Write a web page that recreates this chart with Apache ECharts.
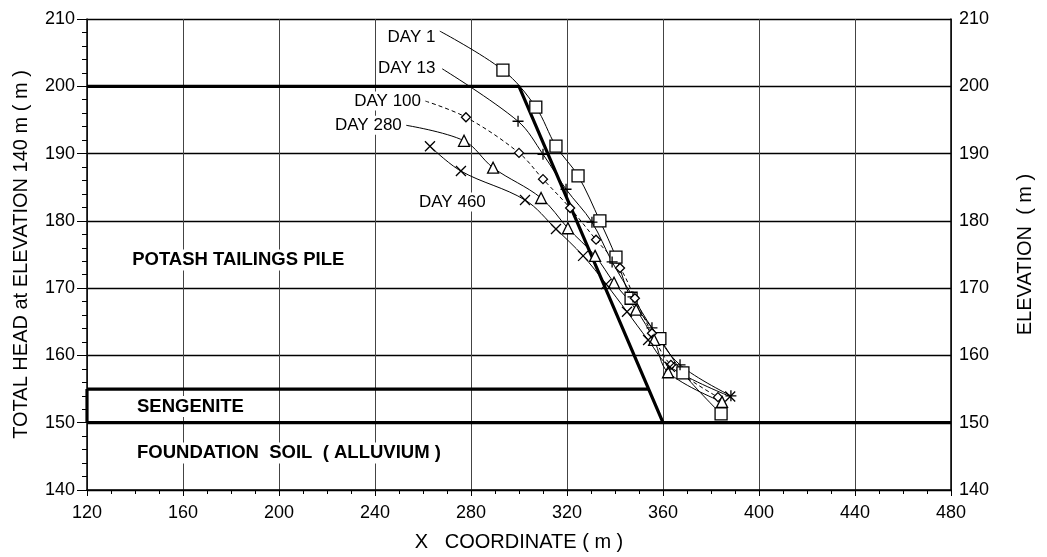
<!DOCTYPE html>
<html>
<head>
<meta charset="utf-8">
<script src="https://cdn.jsdelivr.net/npm/echarts@6/dist/echarts.min.js"></script>
<style>
html,body{margin:0;padding:0;background:#fff;}
#chart{width:1047px;height:557px;}
</style>
</head>
<body>
<div id="chart"></div>
<script>
// Axis ticks
const xTicks = [120, 160, 200, 240, 280, 320, 360, 400, 440, 480];
const yTicks = [140, 150, 160, 170, 180, 190, 200, 210];

// Total head profiles, [x coordinate (m), head (m)]; first point of a labelled curve is its leader start
const day1   = [[267,208.2],[293.3,202.4],[307,196.9],[315.4,191.1],[324.6,186.7],[333.7,180.0],[340.4,174.6],[346.7,168.5],[358.7,162.5],[368.3,157.4],[384.2,151.3]];
const day13  = [[268,202.6],[299.6,194.8],[310,189.9],[319.6,184.7],[330.4,179.8],[338.8,173.9],[347.5,168.7],[355.4,164.1],[367.1,158.6],[388.3,154.0]];
const day100 = [[261,197.8],[277.9,195.4],[300,190.1],[310,186.2],[321.3,181.9],[332.1,177.2],[342.1,173.0],[348.3,168.5],[355.4,163.3],[363.3,158.6],[382.9,153.8]];
const day280 = [[253,194.2],[277.1,191.9],[289.2,187.9],[309.2,183.4],[320.4,178.9],[331.7,174.8],[339.6,170.8],[348.8,166.8],[356.3,162.3],[362.1,157.5],[384.6,153.1]];
const day460 = [[262.9,191.1],[275.8,187.4],[302.5,183.1],[315.4,178.8],[326.7,174.8],[336.3,170.6],[345,166.5],[353.8,162.3],[362.9,158.3],[388.0,153.9]];

// Stratigraphy outlines
const pileFace  = [[120,200],[300,200],[360,150]];
const soilTop   = [[120,150],[480,150]];
const sengTop   = [[120,155],[354,155]];
const sengLeft  = [[120,150],[120,155]];

const chart = echarts.init(document.getElementById('chart'));
const FONT = '"Liberation Sans", Arial, sans-serif';

function profile(name, data, symbol, size, dash, leader) {
  const pts = data.map((d, i) => (leader && i === 0) ? { value: d, symbol: 'none' } : d);
  return {
    name, type: 'line', data: pts, smooth: 0.35, symbol, symbolSize: size,
    showSymbol: true, z: 5,
    lineStyle: { color: '#000', width: 1, type: dash },
    itemStyle: { color: '#fff', borderColor: '#000', borderWidth: 1.3 },
    emphasis: { disabled: true }, animation: false
  };
}
function strata(data) {
  return {
    type: 'line', data, symbol: 'none', z: 4,
    lineStyle: { color: '#000', width: 3.2 }, animation: false,
    emphasis: { disabled: true }
  };
}

const PLUS = 'path://M5,0L5,10M0,5L10,5';
const CROSS = 'path://M0,0L10,10M10,0L0,10';

chart.setOption({
  animation: false,
  grid: { left: 87, right: 96, top: 19, bottom: 67 },
  xAxis: {
    type: 'value', min: 120, max: 480, interval: 40,
    name: 'X   COORDINATE ( m )', nameLocation: 'middle', nameGap: 42,
    nameTextStyle: { fontFamily: FONT, fontSize: 20, color: '#000' },
    axisLine: { lineStyle: { color: '#000', width: 1.5 } },
    axisTick: { show: true, length: 6, lineStyle: { color: '#000' } },
    minorTick: { show: true, splitNumber: 4, length: 4, lineStyle: { color: '#000' } },
    axisLabel: { fontFamily: FONT, fontSize: 18, color: '#000', margin: 14,
      formatter: v => xTicks.includes(v) ? String(v) : '' },
    splitLine: { show: true, lineStyle: { color: '#444', width: 1 } }
  },
  yAxis: [{
    type: 'value', min: 140, max: 210, interval: 10,
    name: 'TOTAL HEAD at ELEVATION 140 m ( m )', nameLocation: 'middle', nameGap: 56,
    nameTextStyle: { fontFamily: FONT, fontSize: 20, color: '#000' },
    axisLine: { lineStyle: { color: '#000', width: 1.5 } },
    axisTick: { show: true, length: 10, lineStyle: { color: '#000' } },
    minorTick: { show: true, splitNumber: 5, length: 5, lineStyle: { color: '#000' } },
    axisLabel: { fontFamily: FONT, fontSize: 18, color: '#000', margin: 12,
      formatter: v => yTicks.includes(v) ? String(v) : '' },
    splitLine: { show: true, lineStyle: { color: '#000', width: 1.3 } }
  }, {
    type: 'value', min: 140, max: 210, interval: 10, position: 'right',
    name: 'ELEVATION  ( m )', nameLocation: 'middle', nameGap: 64,
    nameTextStyle: { fontFamily: FONT, fontSize: 20, color: '#000' },
    axisLine: { show: true, lineStyle: { color: '#000', width: 1.5 } },
    axisTick: { show: false },
    axisLabel: { fontFamily: FONT, fontSize: 18, color: '#000', margin: 8,
      formatter: v => yTicks.includes(v) ? String(v) : '' },
    splitLine: { show: false }
  }],
  series: [
    strata(pileFace), strata(soilTop), strata(sengTop), strata(sengLeft),
    profile('DAY 1', day1, 'rect', 12, 'solid', true),
    profile('DAY 13', day13, PLUS, 11, 'solid', true),
    profile('DAY 100', day100, 'diamond', 9, [4, 3], true),
    profile('DAY 280', day280, 'triangle', 11, 'solid', true),
    profile('DAY 460', day460, CROSS, 10, 'solid', false)
  ]
});

// Text annotations anchored in data coordinates
const notes = [
  { t: 'DAY 1',   at: [266, 207.3], align: 'right', size: 17, bold: false },
  { t: 'DAY 13',  at: [266, 202.6], align: 'right', size: 17, bold: false },
  { t: 'DAY 100', at: [260, 197.8], align: 'right', size: 17, bold: false },
  { t: 'DAY 280', at: [252, 194.2], align: 'right', size: 17, bold: false },
  { t: 'DAY 460', at: [287, 182.8], align: 'right', size: 17, bold: false },
  { t: 'POTASH TAILINGS PILE', at: [138, 174.2], align: 'left', size: 18.5, bold: true },
  { t: 'SENGENITE', at: [140, 152.4], align: 'left', size: 18.5, bold: true },
  { t: 'FOUNDATION  SOIL  ( ALLUVIUM )', at: [140, 145.5], align: 'left', size: 18.5, bold: true }
];
chart.setOption({
  graphic: notes.map(n => {
    const p = chart.convertToPixel({ xAxisIndex: 0, yAxisIndex: 0 }, n.at);
    return {
      type: 'text', x: p[0], y: p[1], z: 3, zlevel: 0,
      style: { text: n.t, fill: '#000', font: (n.bold ? 'bold ' : '') + n.size + 'px ' + FONT,
        textAlign: n.align, textVerticalAlign: 'middle', backgroundColor: '#fff', padding: [1, 2] }
    };
  })
});
</script>
</body>
</html>
